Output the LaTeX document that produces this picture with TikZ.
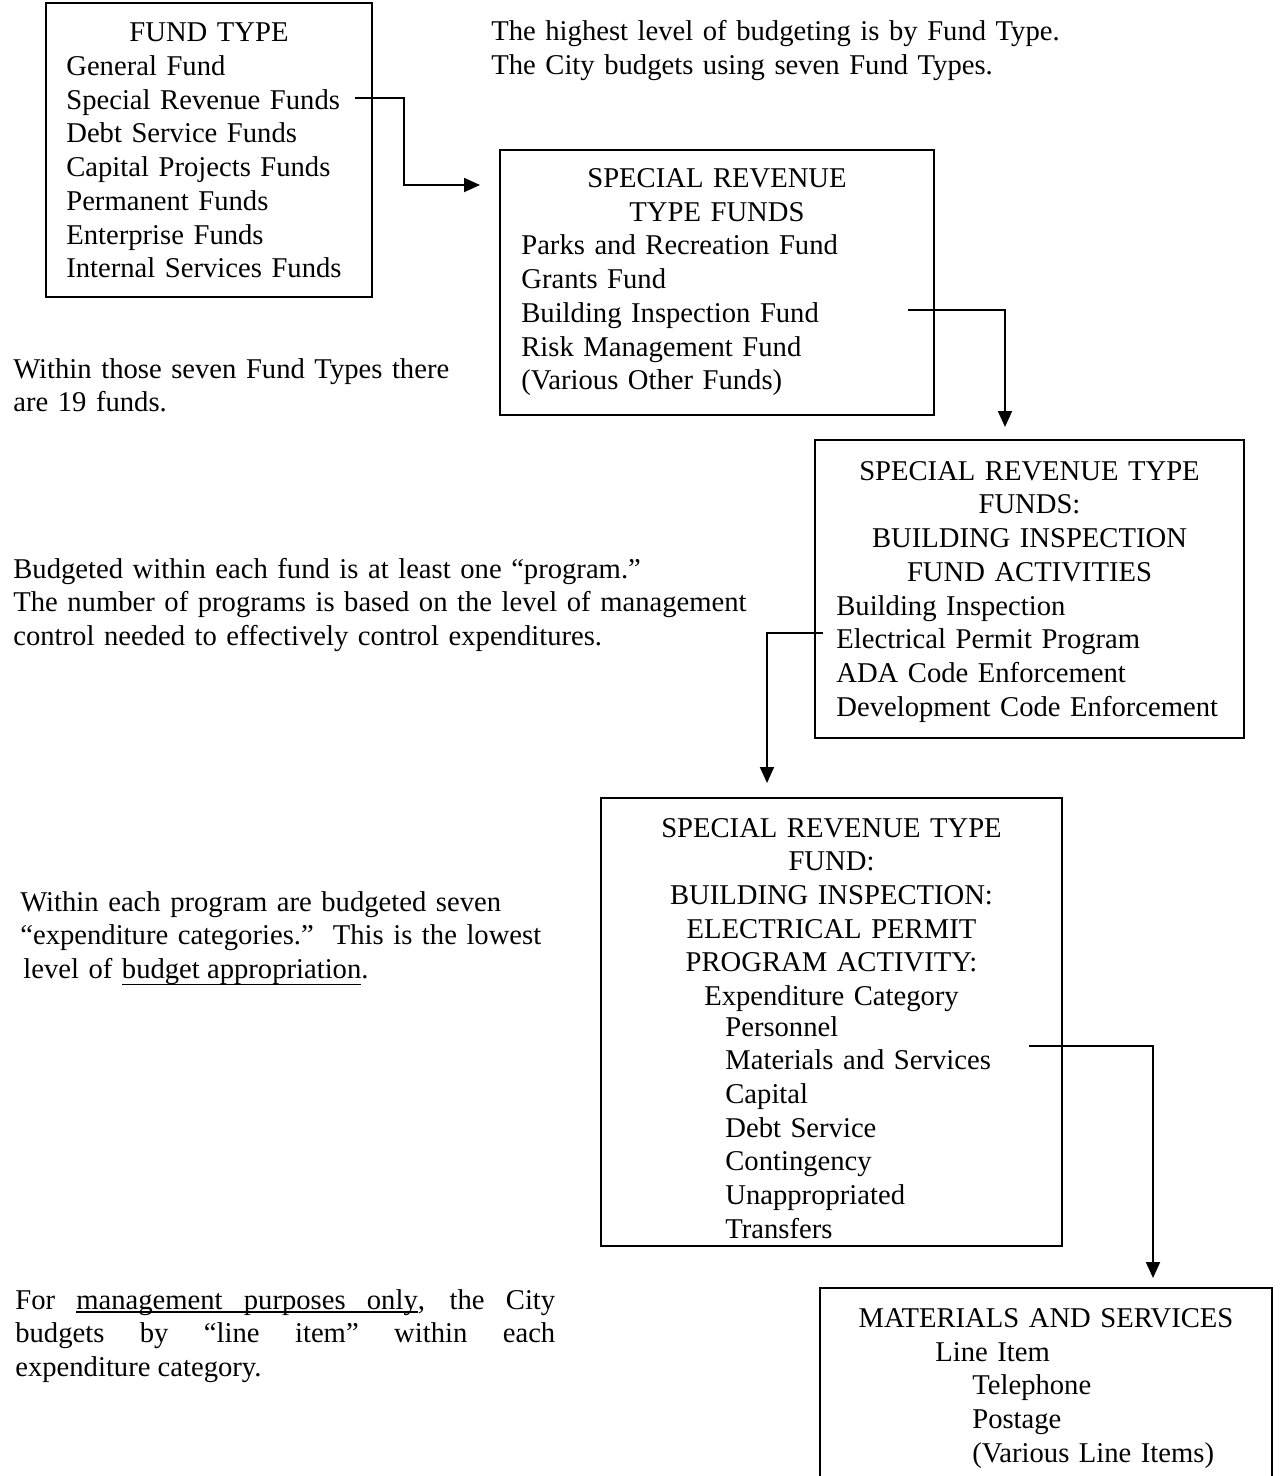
\documentclass[tikz,border=0pt]{standalone}
\usepackage{fontspec}
\setmainfont{Liberation Serif}
\usetikzlibrary{arrows.meta}
\newcommand{\cityfont}{\fontsize{16.3pt}{19.2pt}\selectfont}
\newcommand{\ulword}[2][1.4pt]{\setbox0=\hbox{#2}\rlap{\vrule width\wd0 height -#1 depth \dimexpr#1+0.7pt\relax}\box0}
\newcommand{\ulgap}[1][1.4pt]{\leaders\hrule height -#1 depth \dimexpr#1+0.7pt\relax\hskip\fontdimen2\font plus\fontdimen3\font minus\fontdimen4\font}

\begin{document}
\begin{tikzpicture}[
		x=0.02cm, y=-0.02cm,
		box/.style={draw=black, line width=1.1pt, inner sep=0pt},
		head/.style={inner sep=0pt, anchor=base, align=center, font=\cityfont},
		list/.style={inner sep=0pt, anchor=base west, align=left, font=\cityfont},
		link/.style={line width=1.1pt, -{Triangle[length=0.32cm, width=0.28cm]}}
	]
	\useasboundingbox (0,0) rectangle (1279,1476);
	\clip (0,0) rectangle (1279,1476);

	\node[box, minimum width=6.52cm, minimum height=5.88cm] (fundtype) at (209,150) {};
	\node[head, text width=6.2cm] (fundtype-head) at (209,42) {FUND TYPE};
	\node[list, text width=6cm] (fundtype-list) at (66,75.5) {General Fund\\Special Revenue Funds\\Debt Service Funds\\Capital Projects Funds\\Permanent Funds\\Enterprise Funds\\Internal Services Funds};

	\node[box, minimum width=8.68cm, minimum height=5.30cm] (special) at (717,282.5) {};
	\node[head, text width=8.4cm] (special-head) at (717,188) {SPECIAL REVENUE\\TYPE FUNDS};
	\node[list, text width=8cm] (special-list) at (521,255) {Parks and Recreation Fund\\Grants Fund\\Building Inspection Fund\\Risk Management Fund\\(Various Other Funds)};

	\node[box, minimum width=8.58cm, minimum height=5.96cm] (building) at (1029.5,589) {};
	\node[head, text width=8.4cm] (building-head) at (1029.5,480) {SPECIAL REVENUE TYPE\\FUNDS:\\BUILDING INSPECTION\\FUND ACTIVITIES};
	\node[list, text width=8cm] (building-list) at (836,615) {Building Inspection\\Electrical Permit Program\\ADA Code Enforcement\\Development Code Enforcement};

	\node[box, minimum width=9.22cm, minimum height=8.96cm] (electrical) at (831.5,1022) {};
	\node[head, text width=9cm] (electrical-head) at (831.5,837) {SPECIAL REVENUE TYPE\\FUND:\\BUILDING INSPECTION:\\ELECTRICAL PERMIT\\PROGRAM ACTIVITY:\\Expenditure Category};
	\node[list, text width=6cm] (electrical-list) at (725,1036) {Personnel\\Materials and Services\\Capital\\Debt Service\\Contingency\\Unappropriated\\Transfers};

	\node[box, minimum width=9.04cm, minimum height=4.24cm] (materials) at (1046,1394) {};
	\node[head, text width=8.8cm] (materials-head) at (1046,1327) {MATERIALS AND SERVICES};
	\node[list, text width=6.5cm] (materials-list) at (935,1361) {Line Item\\\hspace*{0.74cm}Telephone\\\hspace*{0.74cm}Postage\\\hspace*{0.74cm}(Various Line Items)};

	\node[list, text width=13cm] (intro) at (491,41) {The highest level of budgeting is by Fund Type.\\The City budgets using seven Fund Types.};
	\node[list, text width=10cm] (nineteen) at (13,378) {Within those seven Fund Types there\\are 19 funds.};
	\node[list, text width=15cm] (program) at (13,578) {Budgeted within each fund is at least one “program.”\\The number of programs is based on the level of management\\control needed to effectively control expenditures.};
	\node[list, text width=11cm] (category) at (20,911) {Within each program are budgeted seven\\“expenditure categories.”\ \ This is the lowest\\\hspace*{0.06cm}level of \ulword[3.2pt]{budget}\ulgap[3.2pt]\ulword[3.2pt]{appropriation}.};
	\node[list, align=justify, text width=10.8cm] (lineitem) at (15,1309) {For \ulword{management}\ulgap\ulword{purposes}\ulgap\ulword{only}, the City\linebreak budgets by “line item” within each\linebreak expenditure category.};

	\coordinate (srf-out) at (355,98);
	\coordinate (sr-in) at (480,185);
	\coordinate (bif-out) at (908,310);
	\coordinate (bi-in) at (1005,427);
	\coordinate (epp-out) at (823,633);
	\coordinate (ep-in) at (767,783);
	\coordinate (mas-out) at (1029,1046);
	\coordinate (ms-in) at (1153,1278);

	\draw[link] (srf-out) -- ++(49,0) |- (sr-in);
	\draw[link] (bif-out) -| (bi-in);
	\draw[link] (epp-out) -| (ep-in);
	\draw[link] (mas-out) -| (ms-in);
\end{tikzpicture}
\end{document}
